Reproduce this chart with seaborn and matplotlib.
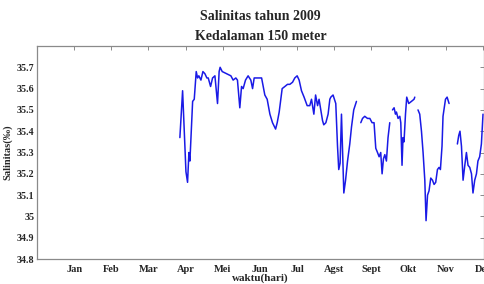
#%%
import numpy as np
import pandas as pd
import matplotlib.pyplot as plt
import seaborn as sns

#%%
# Data: day of year and salinity, in five separate pieces
hari_1 = [115.4, 117.6, 120.3, 121.6, 122.7, 123.5, 125.7, 127.0, 128.6, 129.7, 130.7, 132.4,
          134.0, 135.6, 137.2, 138.3, 140.2, 141.8, 143.7, 145.8, 147.1, 147.9, 149.6, 153.1,
          156.6, 158.4, 160.6, 161.9, 163.8, 165.2, 166.5, 168.4, 170.5, 172.7, 174.1, 175.4,
          177.8, 181.4, 184.0, 185.9, 188.1, 190.2, 192.7, 194.0, 195.6, 198.0, 200.2, 202.3,
          204.2, 206.4, 208.2, 210.1, 211.7, 213.6, 215.7, 218.2, 220.3, 221.7, 223.6, 225.0,
          226.6, 227.8, 229.2, 230.6, 231.6, 233.3, 235.1, 236.5, 237.3, 239.1, 241.3, 242.7,
          243.7, 244.8, 245.9, 247.8, 249.2, 250.8, 252.6, 254.0, 255.8, 258.0]
sal_1 = [35.37, 35.59, 35.21, 35.16, 35.30, 35.26, 35.54, 35.55, 35.68, 35.65, 35.66, 35.64,
         35.68, 35.67, 35.65, 35.65, 35.61, 35.65, 35.66, 35.53, 35.68, 35.70, 35.68, 35.67,
         35.66, 35.64, 35.65, 35.64, 35.51, 35.61, 35.60, 35.64, 35.66, 35.64, 35.60, 35.65,
         35.65, 35.65, 35.57, 35.55, 35.48, 35.44, 35.41, 35.44, 35.49, 35.60, 35.61, 35.62,
         35.62, 35.63, 35.65, 35.66, 35.64, 35.59, 35.56, 35.52, 35.52, 35.55, 35.48, 35.57,
         35.52, 35.55, 35.50, 35.45, 35.43, 35.44, 35.48, 35.55, 35.56, 35.57, 35.53, 35.33,
         35.22, 35.25, 35.48, 35.11, 35.17, 35.26, 35.34, 35.42, 35.50, 35.54]

hari_2 = [261.5, 262.9, 264.7, 266.9, 268.8, 270.6, 272.2, 273.6, 275.0, 276.3, 277.6, 278.7,
          279.8, 280.9, 282.2, 283.5, 284.9]
sal_2 = [35.44, 35.46, 35.47, 35.46, 35.46, 35.44, 35.44, 35.32, 35.30, 35.28, 35.30, 35.20,
         35.27, 35.29, 35.26, 35.37, 35.44]

hari_3 = [287.1, 288.4, 289.5, 290.3, 291.6, 293.0, 293.8, 294.8, 295.6, 296.4, 297.6, 298.6,
          300.2, 302.4, 304.5, 305.1]
sal_3 = [35.50, 35.51, 35.48, 35.49, 35.46, 35.47, 35.44, 35.24, 35.37, 35.35, 35.48, 35.56,
         35.53, 35.54, 35.55, 35.56]

hari_4 = [307.7, 309.1, 310.5, 311.8, 313.2, 314.2, 315.4, 316.6, 318.0, 319.4, 320.7, 322.0,
          323.4, 324.7, 325.8, 327.1, 327.9, 329.9, 331.2, 332.8]
sal_4 = [35.50, 35.48, 35.40, 35.30, 35.17, 34.98, 35.10, 35.12, 35.18, 35.17, 35.15, 35.16,
         35.22, 35.23, 35.22, 35.33, 35.47, 35.55, 35.56, 35.53]

hari_5 = [339.5, 340.6, 341.6, 342.8, 344.1, 345.5, 346.8, 348.1, 349.5, 350.9, 352.1, 353.5,
          354.9, 356.1, 357.5, 358.9, 360.2]
sal_5 = [35.34, 35.38, 35.40, 35.33, 35.17, 35.24, 35.30, 35.24, 35.23, 35.20, 35.11, 35.17,
         35.20, 35.26, 35.28, 35.34, 35.48]

bulan = ['Jan', 'Feb', 'Mar', 'Apr', 'Mei', 'Jun', 'Jul', 'Agst', 'Sept', 'Okt', 'Nov', 'Des']
bulan_pos = [30, 60, 90, 120, 150, 180, 210, 240, 270, 300, 330, 360]
sal_ticks = [34.8, 34.9, 35.0, 35.1, 35.2, 35.3, 35.4, 35.5, 35.6, 35.7]

#%%
# one long table, the segment id keeps the gaps open
pieces = [(hari_1, sal_1), (hari_2, sal_2), (hari_3, sal_3), (hari_4, sal_4), (hari_5, sal_5)]
df = pd.concat([pd.DataFrame({'hari': h, 'sal': s, 'seg': i}) for i, (h, s) in enumerate(pieces)],
               ignore_index=True)

#%%
sns.set_style('white')
plt.rcParams['font.family'] = ['Liberation Serif', 'DejaVu Serif']

fig = plt.figure(figsize=(4.84, 2.84), dpi=100)
ax = fig.add_axes([0.0764, 0.088, 0.9236, 0.750])

sns.lineplot(data=df, x='hari', y='sal', units='seg', estimator=None,
             color='#1a1ae6', linewidth=1.1, ax=ax)

ax.set_xlim(0, 361)
ax.set_ylim(34.8, 35.8)
ax.set_xticks(bulan_pos)
ax.set_xticklabels(bulan, fontsize=7.5, fontweight='bold')
ax.set_yticks(sal_ticks)
ax.set_yticklabels(['%g' % v for v in sal_ticks], fontsize=7.2, fontweight='bold')
ax.tick_params(direction='in', length=3, width=0.6, color='#777777',
               top=True, right=True)
ax.tick_params(axis='y', pad=2)
ax.tick_params(axis='x', pad=4)

for sp in ax.spines.values():
    sp.set_color('#8a8a8a')
    sp.set_linewidth(0.9)

ax.set_xlabel('waktu(hari)', fontsize=8, fontweight='bold', labelpad=0)
ax.set_ylabel('Salinitas(‰)', fontsize=7.5, fontweight='bold', labelpad=3)
ax.set_title('Salinitas tahun 2009\nKedalaman 150 meter', fontsize=10, fontweight='bold',
             linespacing=1.7, pad=4)

fig.savefig('out.png', dpi=100)
